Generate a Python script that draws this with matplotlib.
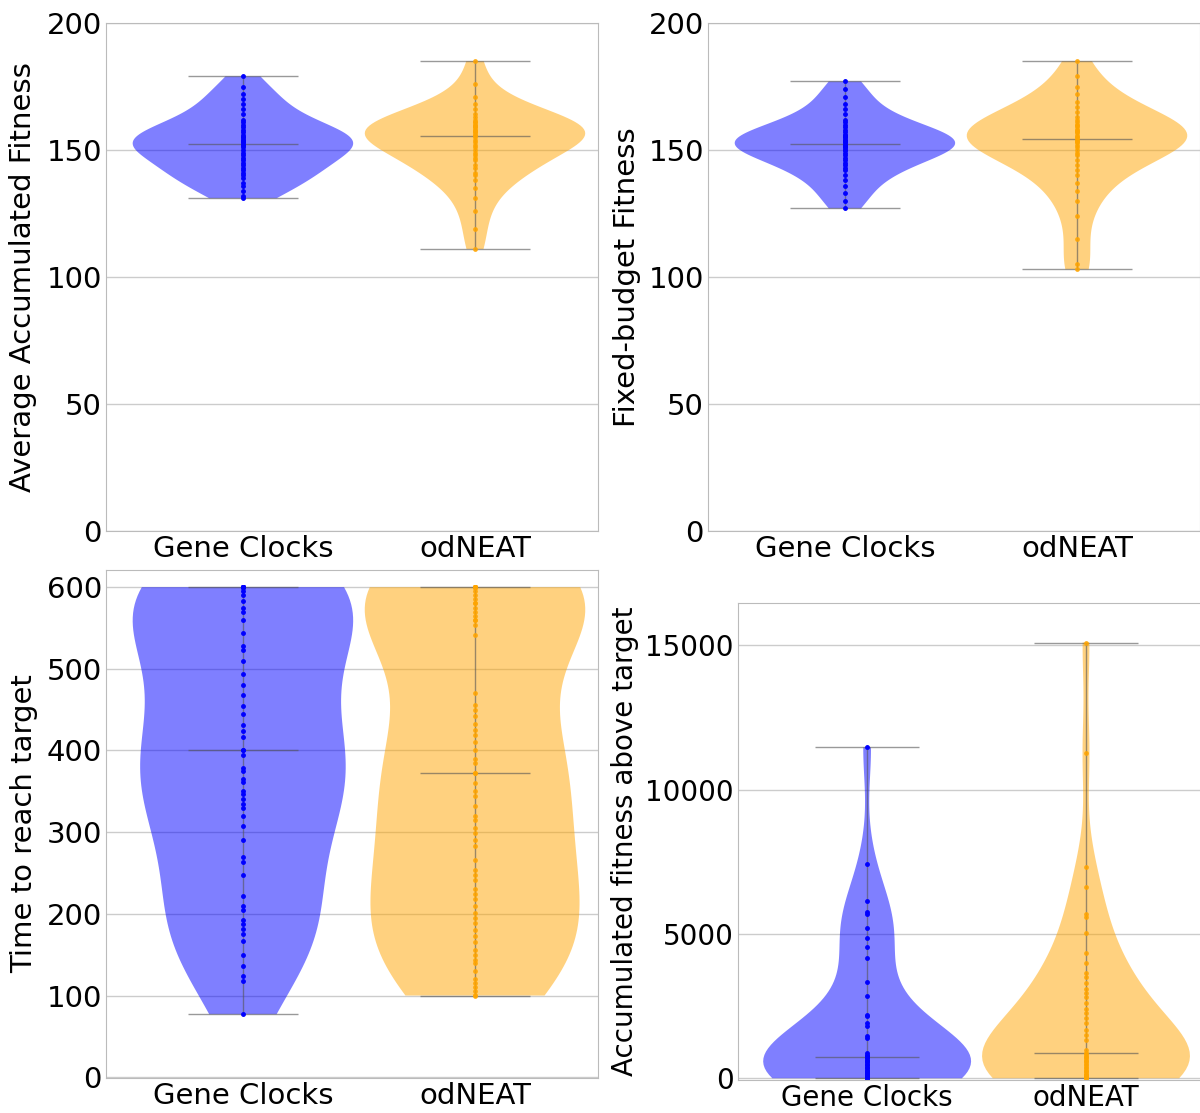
import matplotlib
matplotlib.use("Agg")
import matplotlib.pyplot as plt

labels = ["Gene Clocks", "odNEAT"]

# average accumulated fitness
avg_gc = [131, 132, 134, 136, 137, 139, 140, 141, 142, 143, 144, 145, 146, 147,
          148, 149, 150, 151, 152, 152, 153, 153, 154, 154, 155, 155, 156, 157,
          158, 159, 160, 161, 162, 164, 166, 168, 170, 172, 175, 179]
avg_od = [111, 119, 126, 131, 135, 138, 140, 141, 143, 144, 146, 147, 148, 149,
          150, 151, 152, 153, 154, 155, 156, 156, 157, 157, 158, 158, 159, 159,
          160, 160, 161, 161, 162, 163, 164, 166, 168, 171, 176, 185]

# fixed-budget fitness
fix_gc = [127, 130, 133, 136, 138, 140, 142, 143, 144, 145, 146, 147, 148, 149,
          150, 150, 151, 151, 152, 152, 153, 153, 154, 154, 155, 155, 156, 156,
          157, 158, 159, 160, 161, 162, 164, 166, 168, 171, 174, 177]
fix_od = [103, 105, 115, 124, 130, 134, 137, 140, 142, 144, 146, 148, 149, 150,
          151, 152, 153, 153, 154, 154, 155, 155, 156, 157, 157, 158, 158, 159,
          160, 160, 161, 162, 163, 165, 167, 169, 172, 175, 179, 185]

# time to reach target
time_gc = [600, 600, 600, 600, 600, 600, 600, 600, 600, 600, 595, 590, 583, 575,
           569, 560, 544, 528, 523, 510, 494, 480, 468, 455, 445, 431, 424, 417,
           401, 400, 395, 378, 375, 365, 362, 350, 347, 340, 335, 329, 320, 308,
           290, 270, 263, 248, 222, 209, 205, 193, 187, 181, 175, 167, 150, 136,
           124, 118, 77]
time_od = [600, 600, 600, 600, 600, 600, 600, 600, 600, 600, 600, 595, 590, 585,
           580, 580, 575, 570, 565, 560, 560, 554, 541, 470, 456, 450, 442, 432,
           425, 419, 410, 401, 390, 385, 373, 372, 360, 350, 344, 332, 320, 315,
           305, 299, 290, 283, 266, 254, 248, 242, 230, 224, 218, 210, 201, 195,
           189, 180, 173, 165, 156, 150, 144, 140, 130, 120, 115, 110, 105, 101,
           100]

# accumulated fitness above target
acc_gc = [11470, 7415, 6154, 5750, 5680, 5220, 4850, 4560, 4180, 3325, 2850,
          2200, 2150, 1900, 1800, 1450, 1400, 880, 820, 780, 750, 700, 650, 600,
          550, 500, 450, 400, 350, 300, 260, 220, 180, 150, 120, 90, 60, 40, 20,
          10, 0]
acc_od = [15100, 11270, 7330, 6640, 5700, 5600, 5030, 4340, 4000, 3650, 3500,
          3300, 3100, 2950, 2800, 2600, 2400, 2260, 2100, 1910, 1670, 1500, 1330,
          980, 870, 830, 780, 720, 700, 650, 600, 550, 500, 450, 400, 350, 300,
          250, 200, 150, 120, 100, 80, 60, 50, 40, 30, 10, 0]

plt.rcParams['font.family'] = ['DejaVu Sans']
fig = plt.figure(figsize=(12, 11.13), dpi=100)


def panel(rect, gc, od, ylabel, yticks, ylim, labx, size=21):
    ax = fig.add_axes(rect)
    parts = ax.violinplot([gc, od], positions=[1, 2], widths=0.95,
                          showmedians=True, showextrema=True)
    for body, c in zip(parts['bodies'], ['blue', 'orange']):
        body.set_facecolor(c)
        body.set_edgecolor('none')
        body.set_alpha(0.5)
    for key in ['cbars', 'cmins', 'cmaxes', 'cmedians']:
        parts[key].set_color('#555555')
        parts[key].set_alpha(0.6)
        parts[key].set_linewidth(1)
    ax.plot([1] * len(gc), gc, '.', color='blue', ms=5)
    ax.plot([2] * len(od), od, '.', color='orange', ms=5, alpha=0.8)
    ax.set_xlim(0.41, 2.53)
    ax.set_ylim(*ylim)
    ax.set_xticks([1, 2])
    ax.set_xticklabels(labels)
    ax.set_yticks(yticks)
    ax.yaxis.grid(True, color='#cccccc', lw=1)
    ax.set_axisbelow(True)
    for s in ax.spines.values():
        s.set_color('#bbbbbb')
    ax.tick_params(length=0, labelsize=size, pad=3)
    ax.set_ylabel(ylabel, fontsize=size, va='center')
    ax.yaxis.set_label_coords(labx, 0.5)
    return ax


panel([106 / 1200, 582 / 1113, 492 / 1200, 508 / 1113], avg_gc, avg_od,
      'Average Accumulated Fitness', [0, 50, 100, 150, 200], (0, 200), -0.169)
panel([708 / 1200, 582 / 1113, 492 / 1200, 508 / 1113], fix_gc, fix_od,
      'Fixed-budget Fitness', [0, 50, 100, 150, 200], (0, 200), -0.165)
panel([106 / 1200, 35 / 1113, 492 / 1200, 508 / 1113], time_gc, time_od,
      'Time to reach target', [0, 100, 200, 300, 400, 500, 600], (-1, 621), -0.167)
panel([738 / 1200, 33 / 1113, 464 / 1200, 477 / 1113], acc_gc, acc_od,
      'Accumulated fitness above target', [0, 5000, 10000, 15000], (-60, 16470),
      -0.244, size=20)

fig.savefig('out.png', dpi=100)
